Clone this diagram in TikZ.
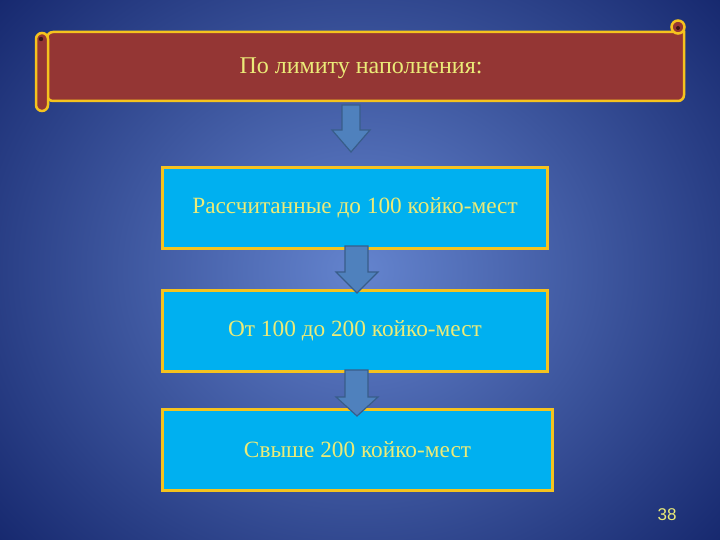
\documentclass[tikz,border=0pt]{standalone}
\usepackage{fontspec}
\setmainfont{Liberation Serif}
\newfontfamily\numfont{Liberation Sans}
\definecolor{bgin}{RGB}{100,132,206}
\definecolor{bgout}{RGB}{22,40,110}
\definecolor{scrollred}{RGB}{148,54,52}
\definecolor{gold}{RGB}{245,195,30}
\definecolor{boxcyan}{RGB}{0,176,240}
\definecolor{arrfill}{RGB}{79,129,189}
\definecolor{arrline}{RGB}{56,93,138}
\definecolor{txtyel}{RGB}{235,235,120}
\tikzset{
  stepbox/.style={draw=gold, line width=2.5pt, fill=boxcyan, inner sep=0pt,
    font=\fontsize{23.3}{26}\selectfont, text=txtyel},
  downarrow/.style={draw=arrline, line width=1.2pt, fill=arrfill, line join=miter},
  scrollpart/.style={draw=gold, line width=2.5pt, fill=scrollred}
}
\begin{document}
\begin{tikzpicture}[x=1pt,y=-1pt]
\useasboundingbox (0,0) rectangle (720,540);
\shade[inner color=bgin, outer color=bgout] (-120,-150) rectangle (840,690);
\useasboundingbox (0,0) rectangle (720,540);
% scroll banner
\draw[scrollpart, rounded corners=0pt] (47,32) -- (684,32) -- (684,94) [rounded corners=6pt] -- (684,101) -- (47,101) -- cycle;
\draw[scrollpart, rounded corners=6pt] (36,33) rectangle (48,111);
\fill[black!60!scrollred] (41,39) circle (2.2);
\draw[scrollpart] (678,27) circle (6.5);
\fill[black!60!scrollred] (678,28) circle (2);
\node[font=\fontsize{24}{27}\selectfont, text=txtyel] (title) at (361,68) {По лимиту наполнения:};
% boxes
\node[stepbox, minimum width=385pt, minimum height=81pt] (b1) at (355,208) {Рассчитанные до 100 койко-мест};
\node[stepbox, minimum width=385pt, minimum height=81pt] (b2) at (355,331) {От 100 до 200 койко-мест};
\node[stepbox, minimum width=390pt, minimum height=81pt] (b3) at (357.5,450) {Свыше 200 койко-мест};
% arrows
\draw[downarrow] (342,105) -- (360,105) -- (360,130) -- (370,130) -- (351,152) -- (332,130) -- (342,130) -- cycle;
\draw[downarrow] (345,246) -- (368,246) -- (368,272) -- (378,272) -- (357,293) -- (336,272) -- (345,272) -- cycle;
\draw[downarrow] (345,370) -- (368,370) -- (368,397) -- (378,397) -- (357,416) -- (336,397) -- (345,397) -- cycle;
% page number
\node[font=\numfont\fontsize{17}{20}\selectfont, text=txtyel] (pg) at (667,515) {38};
\end{tikzpicture}
\end{document}
